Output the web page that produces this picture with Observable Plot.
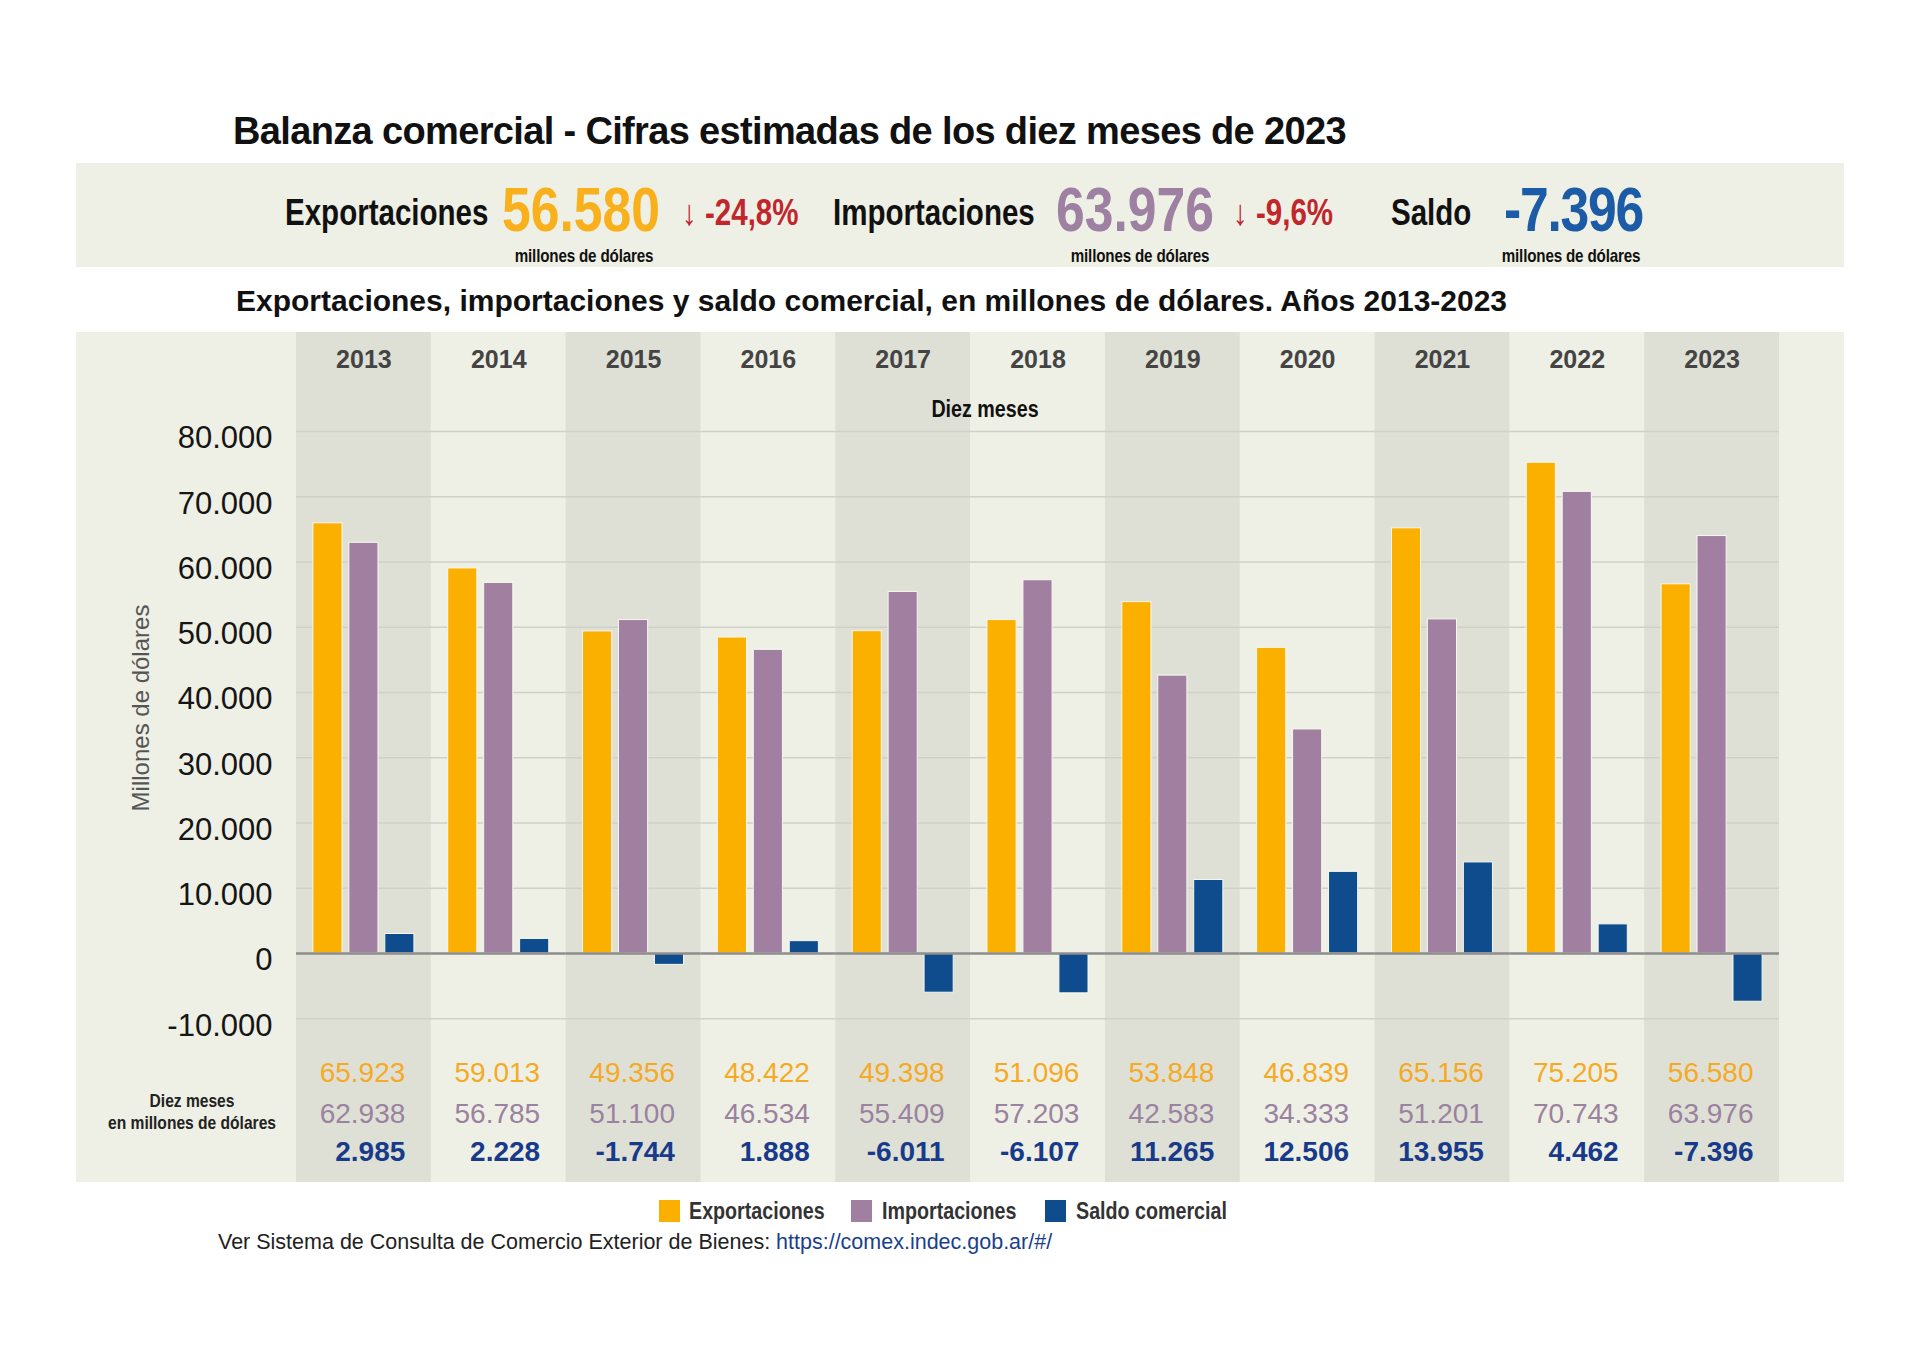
<!DOCTYPE html>
<html><head><meta charset="utf-8">
<script src="https://cdn.jsdelivr.net/npm/d3@7"></script>
<script src="https://cdn.jsdelivr.net/npm/@observablehq/plot@0.6"></script>
<style>
body{margin:0;background:#fff;font-family:"Liberation Sans",Arial,sans-serif;}
#page{position:relative;width:1920px;height:1354px;overflow:hidden;background:#fff}
.abs{position:absolute;white-space:nowrap;line-height:1}
#banner{position:absolute;left:76px;top:163px;width:1768px;height:104px;background:#eff0e5}
#panel{position:absolute;left:76px;top:332px;width:1768px;height:850px;background:#eff0e5}
#panel svg{display:block}
</style></head>
<body><div id="page">
<div id="banner"></div>
<div id="panel"></div>
</div>
<script>
// ---------- data ----------
const years = ["2013","2014","2015","2016","2017","2018","2019","2020","2021","2022","2023"];
const exportaciones = [65923, 59013, 49356, 48422, 49398, 51096, 53848, 46839, 65156, 75205, 56580];
const importaciones = [62938, 56785, 51100, 46534, 55409, 57203, 42583, 34333, 51201, 70743, 63976];
const saldo = [2985, 2228, -1744, 1888, -6011, -6107, 11265, 12506, 13955, 4462, -7396];
const seriesNames = ["Exportaciones", "Importaciones", "Saldo comercial"];
const seriesColors = ["#fbb000", "#a07fa1", "#0f4c8d"];
const tableColors = ["#f5aa26", "#9a82a0", "#173a8a"];
const yTicks = [-10000, 0, 10000, 20000, 30000, 40000, 50000, 60000, 70000, 80000];
const bannerLabels = ["Exportaciones", "Importaciones", "Saldo"];
const bannerValues = [56580, 63976, -7396];
const bannerChanges = ["-24,8%", "-9,6%"];
const bannerColors = ["#f8b01c", "#9e80a2", "#1c5ba6"];
const titleText = "Balanza comercial - Cifras estimadas de los diez meses de 2023";
const subtitleText = "Exportaciones, importaciones y saldo comercial, en millones de dólares. Años 2013-2023";

// ---------- helpers ----------
const fmt = d3.formatLocale({decimal: ",", thousands: ".", grouping: [3], currency: ["$", ""], minus: "-"}).format(",d");
function hasFont(name) {
  const c = document.createElement("canvas").getContext("2d");
  const s = "abcdefghijklmnopqrstuvwxyz0123456789ABCDEF";
  c.font = "40px monospace"; const w1 = c.measureText(s).width;
  c.font = `40px "${name}", monospace`; const w2 = c.measureText(s).width;
  return w1 !== w2;
}
const NARROW_OK = hasFont("Liberation Sans Narrow");
const NARROW = NARROW_OK ? '"Liberation Sans Narrow", "Liberation Sans", sans-serif' : '"Liberation Sans", sans-serif';
const SQUEEZE = NARROW_OK ? 1 : 0.82;
const page = document.getElementById("page");

function place(text, o) {
  const el = document.createElement("div");
  el.className = "abs";
  el.textContent = text;
  el.style.left = o.x + "px";
  el.style.top = (o.y - o.size / 2) + "px";
  el.style.fontSize = o.size + "px";
  el.style.fontWeight = o.weight || "normal";
  el.style.color = o.color || "#111";
  if (o.ls) el.style.letterSpacing = o.ls + "px";
  const k = o.cond ? SQUEEZE : 1;
  el.style.fontFamily = o.cond ? NARROW : '"Liberation Sans", Arial, sans-serif';
  if (o.anchor === "middle") {
    el.style.transformOrigin = "50% 50%";
    el.style.transform = `translateX(-50%) scaleX(${k})`;
  } else {
    el.style.transformOrigin = "0 50%";
    el.style.transform = `scaleX(${k})`;
  }
  (o.parent || page).appendChild(el);
  return el;
}

// ---------- titles ----------
place(titleText, {x: 233, y: 131, size: 38, weight: "bold", color: "#111", ls: -0.65});
place(subtitleText, {x: 236, y: 301, size: 30, weight: "bold", color: "#111"});

// ---------- banner ----------
const bannerLabelX = [285, 833, 1391];
const bannerValueX = [502, 1056, 1504];
const bannerUnitX = [584, 1140, 1571];
const bannerChangeX = [682, 1233];
bannerLabels.forEach((t, i) => {
  place(t, {x: bannerLabelX[i], y: 213, size: 36, weight: "bold", color: "#111", cond: true});
  place(fmt(bannerValues[i]), {x: bannerValueX[i], y: 209, size: 63, weight: "bold", color: bannerColors[i], cond: true,
    ls: i === 2 ? -1.5 : 0});
  place("millones de dólares", {x: bannerUnitX[i], y: 256, size: 18.5, weight: "bold", color: "#111", cond: true, anchor: "middle", ls: -0.2});
  if (i < bannerChanges.length)
    place("↓ " + bannerChanges[i], {x: bannerChangeX[i], y: 213, size: 36, weight: "bold", color: "#c0262c", cond: true});
});

// ---------- chart ----------
const rows = years.flatMap((y, i) => [
  {year: y, series: seriesNames[0], value: exportaciones[i]},
  {year: y, series: seriesNames[1], value: importaciones[i]},
  {year: y, series: seriesNames[2], value: saldo[i]}
]);
const Y_LO = -35100, Y_HI = 95170; // vertical extent of the panel in data units
const darkYears = years.filter((d, i) => i % 2 === 0);
const tableDy = [-109, -68, -30];

const chart = Plot.plot({
  width: 1768, height: 850,
  marginLeft: 220, marginRight: 65, marginTop: 0, marginBottom: 0,
  style: {background: "transparent", fontFamily: '"Liberation Sans", Arial, sans-serif', overflow: "visible"},
  fx: {domain: years, padding: 0, round: false, axis: null},
  x: {domain: seriesNames, paddingInner: 0.19, paddingOuter: 0.47, round: false, axis: null},
  y: {domain: [Y_LO, Y_HI], axis: null},
  color: {domain: seriesNames, range: seriesColors},
  marks: [
    Plot.barY(darkYears, {fx: d => d, y1: Y_LO, y2: Y_HI, fill: "#dfe0d5"}),
    Plot.ruleY(yTicks.filter(d => d !== 0), {stroke: "#cfd0c7", strokeWidth: 1.5}),
    Plot.barY(rows, {fx: "year", x: "series", y: "value", fill: "series", stroke: "#f7f7ef", strokeWidth: 1}),
    Plot.ruleY([0], {stroke: "#8d8d8d", strokeWidth: 2.5}),
    Plot.axisY(yTicks, {tickSize: 0, tickPadding: 24, tickFormat: fmt, fontSize: 31, fill: "#151515", dy: 7, label: null}),
    Plot.text(years, {fx: d => d, text: d => d, frameAnchor: "top", lineAnchor: "middle", dy: 27,
      fontSize: 25, fontWeight: "bold", fill: "#444", fontFamily: NARROW}),
    ...seriesNames.map((s, j) => Plot.text(rows.filter(r => r.series === s), {
      fx: "year", text: d => fmt(d.value), frameAnchor: "bottom-right", textAnchor: "end", lineAnchor: "middle",
      dx: -26, dy: tableDy[j], fontSize: 28, fontWeight: j === 2 ? "bold" : "normal", fill: tableColors[j]
    }))
  ]
});
document.getElementById("panel").appendChild(chart);

// ---------- chart annotations ----------
place("Diez meses", {x: 985, y: 409, size: 24, weight: "bold", color: "#111", cond: true, anchor: "middle"});
place("Diez meses", {x: 192, y: 1100, size: 19, weight: "bold", color: "#222", cond: true, anchor: "middle"});
place("en millones de dólares", {x: 192, y: 1122, size: 19, weight: "bold", color: "#222", cond: true, anchor: "middle"});
const yTitle = place("Millones de dólares", {x: 141, y: 708, size: 24, color: "#555"});
yTitle.style.transformOrigin = "50% 50%";
yTitle.style.transform = "translateX(-50%) rotate(-90deg)";

// ---------- legend ----------
const legendSwatchX = [659, 851, 1045];
const legendTextX = [689, 882, 1076];
seriesNames.forEach((s, i) => {
  const sw = document.createElement("div");
  sw.style.cssText = `position:absolute;left:${legendSwatchX[i]}px;top:1200px;width:21px;height:22px;background:${seriesColors[i]}`;
  page.appendChild(sw);
  place(s, {x: legendTextX[i], y: 1211, size: 24, weight: "bold", color: "#333", cond: true});
});

// ---------- caption ----------
const cap = place("Ver Sistema de Consulta de Comercio Exterior de Bienes: ", {x: 218, y: 1243, size: 21.5, color: "#222"});
const link = document.createElement("span");
link.textContent = "https://comex.indec.gob.ar/#/";
link.style.color = "#1b3f8b";
cap.appendChild(link);
</script>
</body></html>
